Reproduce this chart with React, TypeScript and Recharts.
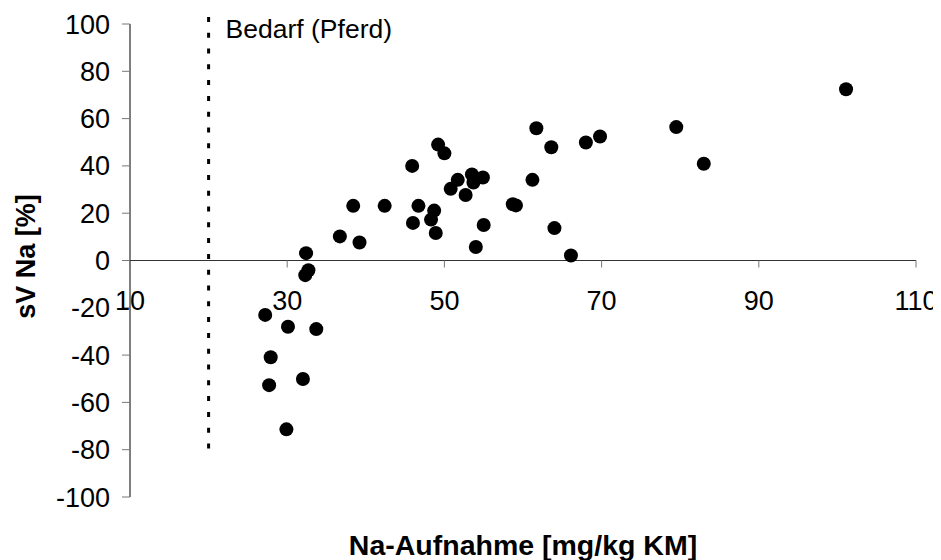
import { ScatterChart, Scatter, XAxis, YAxis, ReferenceLine, ReferenceDot } from 'recharts';

// Na-Aufnahme [mg/kg KM] (x) and sV Na [%] (y)
const naIntake = [
    32.4, 32.7, 32.3, 36.7, 39.2, 38.4, 42.4, 45.9, 46.0, 46.7,
    48.7, 48.3, 48.9, 49.2, 50.0, 50.8, 51.7, 52.7, 53.5, 53.7,
    54.9, 55.0, 54.0, 58.7, 59.1, 61.2, 61.7, 63.6, 64.0, 66.1,
    68.0, 69.8, 79.5, 83.0, 101.1, 27.2, 30.1, 33.7, 27.9, 27.7,
    32.0, 29.9,
];
const svNa = [
    3.1, -4.1, -6.2, 10.2, 7.6, 23.1, 23.1, 40.0, 15.9, 23.1,
    21.1, 17.3, 11.6, 49.0, 45.3, 30.3, 34.1, 27.7, 36.4, 33.0,
    35.1, 15.0, 5.7, 23.8, 23.3, 34.1, 55.9, 47.9, 13.7, 2.1,
    49.9, 52.4, 56.4, 40.9, 72.4, -23.0, -28.0, -29.0, -40.9, -52.7,
    -50.1, -71.4,
];

const xTicks = [10, 30, 50, 70, 90, 110];
const yTicks = [-100, -80, -60, -40, -20, 0, 20, 40, 60, 80, 100];
const bedarfX = 20;
const bedarfRange = [-80, 103];

const data = naIntake.map((x, i) => ({ x, y: svNa[i] }));

const W = 933;
const H = 552;
const TOP = 16;
const X_AXIS_H = 63;
const PLOT_H = H - TOP - X_AXIS_H;
const ZERO_Y = TOP + PLOT_H / 2; // y=0 sits in the middle of a symmetric domain
const FONT = '"Liberation Sans", Arial, sans-serif';

function XTick(props: any) {
    const { x, payload } = props;
    return (
        <g>
            <line x1={x} x2={x} y1={ZERO_Y} y2={ZERO_Y + 7} stroke="#777" />
            <text x={x} y={ZERO_Y + 49} textAnchor="middle" fontSize={27} fontFamily={FONT} fill="#000">
                {payload.value}
            </text>
        </g>
    );
}

function YTitle(props: any) {
    const { viewBox } = props;
    const cx = viewBox.x + 18;
    const cy = viewBox.y + viewBox.height / 2 - 4;
    return (
        <text x={cx} y={cy} transform={`rotate(-90, ${cx}, ${cy})`} textAnchor="middle" dominantBaseline="central"
            fontSize={27} fontWeight="bold" fontFamily={FONT} fill="#000">
            sV Na [%]
        </text>
    );
}

function XTitle(props: any) {
    const { viewBox } = props;
    return (
        <text x={viewBox.x + viewBox.width / 2} y={viewBox.y + 48} textAnchor="middle" dominantBaseline="central"
            fontSize={28.5} fontWeight="bold" fontFamily={FONT} fill="#000">
            Na-Aufnahme [mg/kg KM]
        </text>
    );
}

function BedarfLabel(props: any) {
    const { viewBox } = props;
    return (
        <text x={viewBox.x + 17} y={viewBox.y + 14} fontSize={26.5} fontFamily={FONT} fill="#000">
            Bedarf (Pferd)
        </text>
    );
}

const Dot = (props: any) => <circle cx={props.cx} cy={props.cy} r={7} fill="#000" />;

export default function App() {
    return (
        <div style={{ width: W, height: H, background: '#fff' }}>
            <ScatterChart width={W} height={H} margin={{ top: TOP, right: 25, bottom: 0, left: 0 }}>
                <XAxis
                    type="number"
                    dataKey="x"
                    domain={[10, 110]}
                    ticks={xTicks}
                    height={X_AXIS_H}
                    axisLine={false}
                    tickLine={false}
                    tick={XTick}
                    label={XTitle}
                    allowDataOverflow
                />
                <YAxis
                    type="number"
                    dataKey="y"
                    domain={[-100, 100]}
                    ticks={yTicks}
                    width={122}
                    tickSize={8}
                    tickMargin={12}
                    axisLine={{ stroke: '#000' }}
                    tickLine={{ stroke: '#777' }}
                    tick={{ fontSize: 27, fontFamily: FONT, fill: '#000' }}
                    label={YTitle}
                />
                <ReferenceLine y={0} stroke="#333" />
                <ReferenceLine
                    segment={[{ x: bedarfX, y: bedarfRange[1] }, { x: bedarfX, y: bedarfRange[0] }]}
                    stroke="#000"
                    strokeWidth={3}
                    strokeDasharray="5 10.8"
                    ifOverflow="visible"
                />
                <ReferenceDot x={bedarfX} y={100} r={0} fill="none" stroke="none" label={BedarfLabel} />
                <Scatter data={data} shape={Dot} isAnimationActive={false} />
            </ScatterChart>
        </div>
    );
}
